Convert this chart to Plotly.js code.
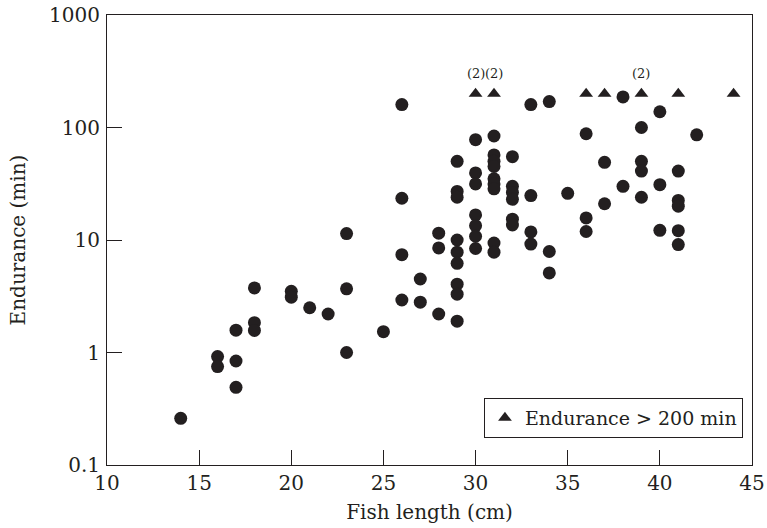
<!DOCTYPE html>
<html>
<head>
<meta charset="utf-8">
<script src="https://cdn.plot.ly/plotly-3.0.1.min.js"></script>
<style>
  html, body { margin: 0; padding: 0; background: #fff; }
  #chart { width: 767px; height: 528px; }
</style>
</head>
<body>
<div id="chart"></div>
<script>
// Fish length (cm) and endurance (min) for each fish
const fishLength = [
  14,
  16, 16,
  17, 17, 17,
  18, 18, 18,
  20, 20,
  21,
  22,
  23, 23, 23,
  25,
  26, 26, 26, 26,
  27, 27,
  28, 28, 28,
  29, 29, 29, 29, 29, 29, 29, 29, 29,
  30, 30, 30, 30, 30, 30, 30,
  31, 31, 31, 31, 31, 31, 31, 31, 31,
  32, 32, 32, 32, 32, 32,
  33, 33, 33, 33,
  34, 34, 34,
  35,
  36, 36, 36,
  37, 37,
  38, 38,
  39, 39, 39, 39,
  40, 40, 40,
  41, 41, 41, 41, 41,
  42
];
const endurance = [
  0.26,
  0.92, 0.75,
  1.58, 0.84, 0.49,
  3.75, 1.84, 1.57,
  3.5, 3.1,
  2.5,
  2.2,
  11.4, 3.68, 1.0,
  1.53,
  160, 23.5, 7.4, 2.93,
  4.5, 2.8,
  11.5, 8.5, 2.2,
  50, 27, 24, 10, 7.8, 6.2, 4.05, 3.3, 1.9,
  78, 39.5, 31.5, 16.7, 13.4, 10.8, 8.4,
  84, 57, 50, 45, 35, 31.5, 28.5, 9.4, 7.8,
  55, 30, 26.5, 23, 15.3, 13.6,
  160, 24.8, 11.8, 9.2,
  170, 7.9, 5.1,
  26,
  88, 15.7, 11.9,
  49, 21,
  187, 30,
  100, 50, 41, 24,
  138, 31, 12.2,
  41, 22.5, 20, 12.1, 9.1,
  86
];
// Fish whose endurance exceeded 200 min
const longLength = [30, 31, 36, 37, 39, 41, 44];
const longEndurance = [200, 200, 200, 200, 200, 200, 200];
// Counts shown above some triangles
const countLength = [30, 31, 39];
const countLabel = ['(2)', '(2)', '(2)'];

const xTicks = [10, 15, 20, 25, 30, 35, 40, 45];
const yTicks = [0.1, 1, 10, 100, 1000];
const yTickText = ['0.1', '1', '10', '100', '1000'];

const ink = '#231f20';
const fontFam = 'DejaVu Serif, Liberation Serif, serif';

const traces = [
  {
    type: 'scatter', mode: 'markers',
    x: fishLength, y: endurance,
    marker: { symbol: 'circle', size: 13, color: ink },
    showlegend: false, hoverinfo: 'x+y'
  },
  {
    type: 'scatter', mode: 'markers',
    x: longLength, y: longEndurance,
    name: 'Endurance &gt; 200 min',
    marker: { symbol: 'triangle-up', size: 12, color: ink },
    showlegend: true
  }
];

const annotations = countLength.map((xv, i) => ({
  x: xv, y: Math.log10(200), xref: 'x', yref: 'y',
  text: countLabel[i], showarrow: false, yshift: 20,
  font: { family: fontFam, size: 13, color: ink }
}));

const layout = {
  width: 767, height: 528,
  margin: { l: 107, r: 15, t: 15, b: 63 },
  paper_bgcolor: '#fff', plot_bgcolor: '#fff',
  font: { family: fontFam, size: 20, color: ink },
  showlegend: true,
  legend: {
    x: 0.986, xanchor: 'right', y: 0.06, yanchor: 'bottom',
    bordercolor: ink, borderwidth: 1, bgcolor: '#fff',
    font: { family: fontFam, size: 19, color: ink }
  },
  xaxis: {
    range: [10, 45], tickvals: xTicks,
    ticks: 'inside', ticklen: 15, tickcolor: ink, tickwidth: 1,
    showline: true, linecolor: ink, linewidth: 1, mirror: true,
    showgrid: false, zeroline: false, automargin: false,
    tickfont: { family: fontFam, size: 20, color: ink },
    title: { text: 'Fish length (cm)', standoff: 10, font: { family: fontFam, size: 20, color: ink } }
  },
  yaxis: {
    type: 'log', range: [-1, 3], tickvals: yTicks, ticktext: yTickText,
    ticks: 'inside', ticklen: 15, tickcolor: ink, tickwidth: 1,
    ticklabelstandoff: 2,
    showline: true, linecolor: ink, linewidth: 1, mirror: true,
    showgrid: false, zeroline: false, automargin: false,
    tickfont: { family: fontFam, size: 20, color: ink },
    title: { text: 'Endurance (min)', standoff: 18, font: { family: fontFam, size: 20, color: ink } }
  },
  annotations: annotations
};

Plotly.newPlot('chart', traces, layout, { displayModeBar: false, staticPlot: true });
</script>
</body>
</html>
